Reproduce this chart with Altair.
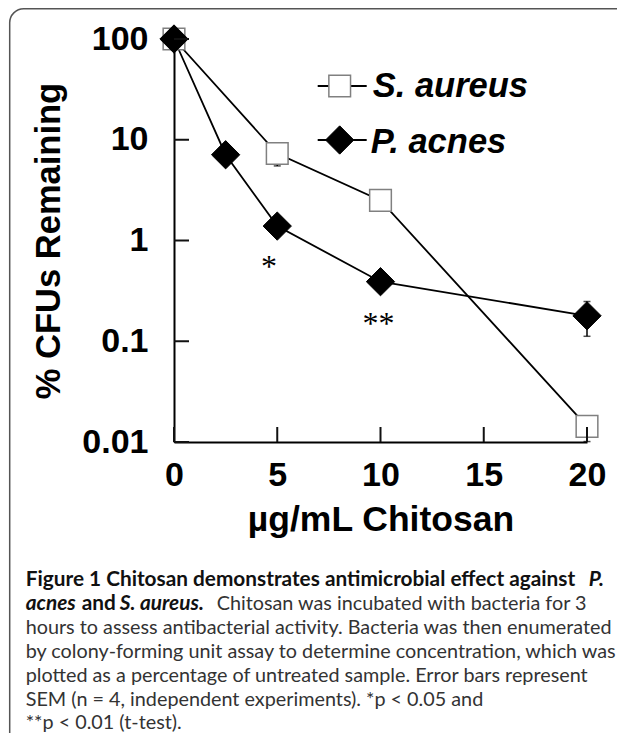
import altair as alt
import pandas as pd

# ---------------- data ----------------
series = ["S. aureus", "P. acnes"]

conc_sa = [0, 5, 10, 20]
cfu_sa = [100, 7.3, 2.5, 0.0143]

conc_pa = [0, 2.5, 5, 10, 20]
cfu_pa = [100, 7.1, 1.39, 0.39, 0.179]

# error bars (SEM) visible in the figure
err_sa_x = [5, 20]
err_sa_lo = [5.5, 0.0101]
err_sa_hi = [7.3, 0.0143]
err_pa_x = [20]
err_pa_lo = [0.112]
err_pa_hi = [0.248]

x_ticks = [0, 5, 10, 15, 20]
y_ticks = [0.01, 0.1, 1, 10, 100]

annot_x = [4.6, 9.9]
annot_y = [0.61, 0.167]
annot_text = ["*", "**"]

x_title = "µg/mL Chitosan"
y_title = "% CFUs Remaining"

caption_segments = [
    "Figure 1 Chitosan demonstrates antimicrobial effect against",
    "P.",
    "acnes",
    "and",
    "S. aureus.",
    "Chitosan was incubated with bacteria for 3",
    "hours to assess antibacterial activity. Bacteria was then enumerated",
    "by colony-forming unit assay to determine concentration, which was",
    "plotted as a percentage of untreated sample. Error bars represent",
    "SEM (n = 4, independent experiments). *p < 0.05 and",
    "**p < 0.01 (t-test).",
]

# ---------------- layout ----------------
W, H = 413, 403
OX, OY = 174.3, 39.0  # page position of the plot origin
BOLD_FONT = "Liberation Sans"
CAP_FONT = "Lato"

df_sa = pd.DataFrame({"x": conc_sa, "y": cfu_sa})
df_pa = pd.DataFrame({"x": conc_pa, "y": cfu_pa})
df_esa = pd.DataFrame({"x": err_sa_x, "lo": err_sa_lo, "hi": err_sa_hi})
df_epa = pd.DataFrame({"x": err_pa_x, "lo": err_pa_lo, "hi": err_pa_hi})
df_ann = pd.DataFrame({"x": annot_x, "y": annot_y, "t": annot_text})
# tick positions along the axis lines (x axis sits at y = 0.01, y axis at x = 0)
df_xt = pd.DataFrame({"tx": x_ticks, "ty": [y_ticks[0]] * len(x_ticks)})
df_yt = pd.DataFrame({"tx": [x_ticks[0]] * len(y_ticks), "ty": y_ticks})

xscale = alt.Scale(domain=[0, 20], nice=False, zero=False)
yscale = alt.Scale(type="log", domain=[0.01, 100], nice=False)

xaxis = alt.Axis(values=x_ticks, format="d", grid=False, ticks=False,
                 domainColor="#000", domainWidth=2,
                 labelFont=BOLD_FONT, labelFontWeight="bold", labelFontSize=34,
                 labelColor="#000", labelPadding=16, labelFlush=False,
                 title=x_title, titleFont=BOLD_FONT, titleFontWeight="bold",
                 titleFontSize=35.5, titleColor="#000", titlePadding=10)
yaxis = alt.Axis(values=y_ticks, format="~g", grid=False, ticks=False,
                 domainColor="#000", domainWidth=2,
                 labelFont=BOLD_FONT, labelFontWeight="bold", labelFontSize=34,
                 labelColor="#000", labelPadding=26, labelFlush=False,
                 title=y_title, titleFont=BOLD_FONT, titleFontWeight="bold",
                 titleFontSize=34.5, titleColor="#000", titlePadding=15)

X = alt.X("x:Q", scale=xscale, axis=xaxis)
Y = alt.Y("y:Q", scale=yscale, axis=yaxis)

one = pd.DataFrame({"a": [0]})

border = alt.Chart(one).mark_rect(fill="white", fillOpacity=0, stroke="#555",
                                  strokeWidth=1.5, cornerRadius=14).encode(
    x=alt.value(10 - OX), x2=alt.value(W + 200),
    y=alt.value(8.8 - OY), y2=alt.value(H + 400))

line_sa = alt.Chart(df_sa).mark_line(color="#000", strokeWidth=1.8).encode(x=X, y=Y)
line_pa = alt.Chart(df_pa).mark_line(color="#000", strokeWidth=1.8).encode(x=X, y=Y)

eb_sa = alt.Chart(df_esa).mark_rule(color="#000", strokeWidth=1.5).encode(
    x=X, y=alt.Y("lo:Q", scale=yscale, axis=yaxis), y2="hi:Q")
cap_sa = alt.Chart(df_esa).mark_tick(color="#000", orient="horizontal", size=7,
                                     thickness=1.5).encode(
    x=X, y=alt.Y("lo:Q", scale=yscale, axis=yaxis))
eb_pa = alt.Chart(df_epa).mark_rule(color="#000", strokeWidth=1.5).encode(
    x=X, y=alt.Y("lo:Q", scale=yscale, axis=yaxis), y2="hi:Q")
cap_pa_lo = alt.Chart(df_epa).mark_tick(color="#000", orient="horizontal", size=7,
                                        thickness=1.5).encode(
    x=X, y=alt.Y("lo:Q", scale=yscale, axis=yaxis))
cap_pa_hi = alt.Chart(df_epa).mark_tick(color="#000", orient="horizontal", size=7,
                                        thickness=1.5).encode(
    x=X, y=alt.Y("hi:Q", scale=yscale, axis=yaxis))

# inward-pointing axis ticks drawn as short rules starting on the axis lines
TX = alt.X("tx:Q", scale=xscale, axis=xaxis)
TY = alt.Y("ty:Q", scale=yscale, axis=yaxis)
xt = alt.Chart(df_xt).mark_rule(color="#111", strokeWidth=2, y2Offset=-15).encode(
    x=TX, y=TY, y2="ty:Q")
yt = alt.Chart(df_yt).mark_rule(color="#111", strokeWidth=2, x2Offset=15).encode(
    x=TX, x2="tx:Q", y=TY)

SQ = dict(shape="square", size=470, filled=True, fill="white", stroke="#808080",
          strokeWidth=1.5, opacity=1)
DM = dict(shape="diamond", size=800, filled=True, fill="#000", stroke="#000",
          strokeWidth=1, opacity=1)

pts_sa = alt.Chart(df_sa).mark_point(**SQ).encode(x=X, y=Y)
pts_pa = alt.Chart(df_pa).mark_point(**DM).encode(x=X, y=Y)

ann = alt.Chart(df_ann).mark_text(font="Liberation Serif", fontSize=32, color="#000",
                                  baseline="alphabetic", align="center", dy=15).encode(
    x=X, y=Y, text="t:N")

# legend (drawn by hand like the original)
leg_layers = []
leg_y = [47, 101]
leg_text_y = [58, 114]
leg_text_x = [198.7, 196.7]
for i, name in enumerate(series):
    d = pd.DataFrame({"label": [name]})
    leg_layers.append(alt.Chart(d).mark_rule(color="#000", strokeWidth=1.8).encode(
        x=alt.value(143.7), x2=alt.value(192.7), y=alt.value(leg_y[i])))
    sty = SQ if i == 0 else DM
    leg_layers.append(alt.Chart(d).mark_point(**sty).encode(
        x=alt.value(165.7), y=alt.value(leg_y[i])))
    leg_layers.append(alt.Chart(d).mark_text(
        font=BOLD_FONT, fontWeight="bold", fontStyle="italic", fontSize=34.5,
        color="#000", align="left", baseline="alphabetic").encode(
        x=alt.value(leg_text_x[i]), y=alt.value(leg_text_y[i]), text="label:N"))

# caption
cap_base = [586, 610, 634, 658, 682, 706, 729]
cap_layout = [  # (segment index, page x, line, weight, style)
    (0, 26, 0, "bold", "normal"),
    (1, 589, 0, "bold", "italic"),
    (2, 26, 1, "bold", "italic"),
    (3, 82, 1, "bold", "normal"),
    (4, 120, 1, "bold", "italic"),
    (5, 217, 1, "normal", "normal"),
    (6, 26, 2, "normal", "normal"),
    (7, 26, 3, "normal", "normal"),
    (8, 26, 4, "normal", "normal"),
    (9, 26, 5, "normal", "normal"),
    (10, 26, 6, "normal", "normal"),
]
cap_layers = []
for idx, px, ln, wt, st in cap_layout:
    d = pd.DataFrame({"t": [caption_segments[idx]]})
    size = 20.8 if wt == "bold" else 19.8
    col = "#111" if wt == "bold" else "#333"
    cap_layers.append(alt.Chart(d).mark_text(
        font=CAP_FONT, fontSize=size, fontWeight=wt, fontStyle=st,
        color=col, align="left", baseline="alphabetic").encode(
        x=alt.value(px - OX), y=alt.value(cap_base[ln] - OY), text="t:N"))

chart = alt.layer(
    border, line_sa, line_pa, eb_sa, cap_sa, eb_pa, cap_pa_lo, cap_pa_hi,
    pts_sa, pts_pa, ann, *leg_layers, *cap_layers, xt, yt
).properties(
    width=W, height=H,
    background="white",
    autosize=alt.AutoSizeParams(type="none"),
    padding={"left": 166, "top": 31, "right": 30, "bottom": 291},
).configure_view(stroke=None)

chart.save("out.html", embed_options={"renderer": "svg", "actions": False})
